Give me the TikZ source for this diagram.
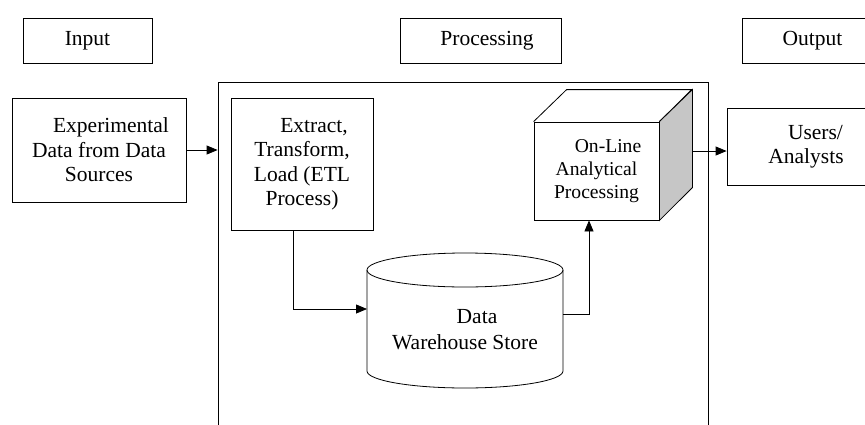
\documentclass[tikz,border=0pt]{standalone}
\usepackage{fontspec}
\setmainfont{Liberation Serif}
\newfontfamily\tnr{Liberation Serif}
\usetikzlibrary{arrows.meta,calc}
\begin{document}
\begin{tikzpicture}[x=1pt,y=-1pt,
  box/.style={draw, line width=0.8pt, align=center, inner sep=0pt, font=\tnr\fontsize{21.5}{24.5}\selectfont},
  small/.style={draw, line width=0.8pt, align=center, inner sep=0pt, font=\tnr\fontsize{19.6}{23}\selectfont},
  plain/.style={align=center, inner sep=0pt, font=\tnr\fontsize{21.5}{26}\selectfont},
  ln/.style={line width=0.8pt},
  arr/.style={line width=0.8pt, -{Triangle[length=11pt,width=9pt]}}]
\useasboundingbox (0,0) rectangle (865,424);
\clip (0,0) rectangle (865,424);
\fill[white] (0,0) rectangle (865,424);
% headers
\node[box, minimum width=129pt, minimum height=45pt] (input) at (87.5,40.5) {Input};
\node[box, minimum width=161pt, minimum height=45pt] (proch) at (480.5,40.5) {\hspace*{13pt}Processing};
\node[box, minimum width=141pt, minimum height=45pt] (outh) at (812.5,40.5) {Output};
% input
\node[box, minimum width=174pt, minimum height=104pt] (exp) at (99,150) {\hspace*{24pt}Experimental\\Data from Data\\Sources};
% processing frame
\node[draw, line width=0.8pt, minimum width=490pt, minimum height=368pt, inner sep=0pt] (frame) at (463,266) {};
% ETL
\node[box, minimum width=142pt, minimum height=132pt] (etl) at (302,164) {\hspace*{24pt}Extract,\\Transform,\\Load (ETL\\Process)};
% cylinder
\draw[ln] (465,270) ellipse [x radius=98pt, y radius=17pt];
\draw[ln] (367,270) -- (367,371) arc[start angle=180, end angle=360, x radius=98pt, y radius=17pt] -- (563,270);
\node[plain] (dw) at (465,330) {\hspace*{24pt}Data\\Warehouse Store};
\coordinate (dwL) at (367,309);
\coordinate (dwR) at (563,314);
% OLAP cube
\node[small, minimum width=125pt, minimum height=98pt] (olap) at (596.5,171) {\hspace*{23pt}On-Line\\Analytical\\Processing};
\draw[ln] (olap.north west) -- ++(33,-32) -- ++(125,0) -- (olap.north east);
\draw[ln, fill=gray!45] (olap.north east) -- ++(33,-32) -- ++(0,98) -- (olap.south east) -- cycle;
% output
\node[box, minimum width=158pt, minimum height=77pt] (users) at (806,146.5) {\hspace*{19pt}Users/\\Analysts};
% connectors
\draw[arr] (exp.east) -- (frame.west |- exp.east);
\draw[arr] ([xshift=-9pt]etl.south) |- (dwL);
\draw[arr] (dwR) -| ([xshift=-7.5pt]olap.south);
\coordinate (olapR) at ($(olap.east)+(33,-20)$);
\draw[arr] (olapR) -- (users.west |- olapR);
\end{tikzpicture}
\end{document}
